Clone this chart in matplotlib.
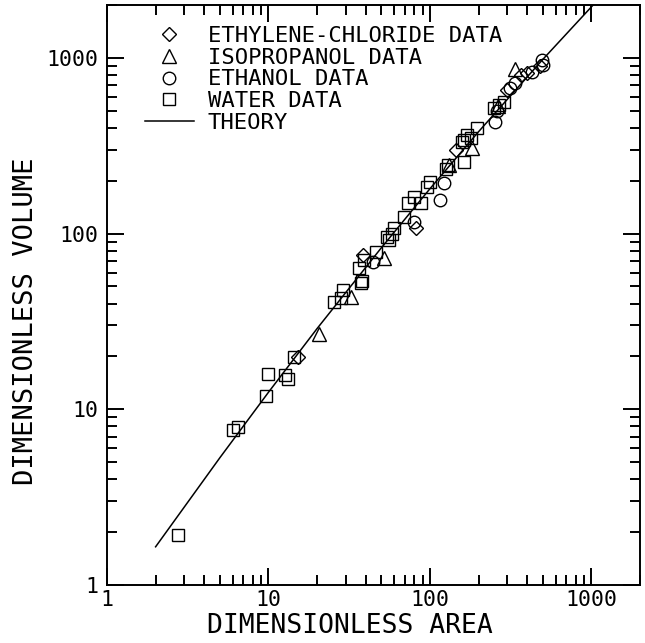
import matplotlib
matplotlib.use('Agg')
import matplotlib.pyplot as plt
from matplotlib.ticker import LogLocator, NullFormatter

plt.rcParams['font.family'] = 'DejaVu Sans Mono'

# data (dimensionless area, dimensionless volume)
ethylene_area = [15.2, 38.7, 81.6, 145, 300, 364, 400, 480]
ethylene_vol = [19.9, 75.5, 107, 299, 656, 800, 817, 900]

isoprop_area = [20.6, 32.4, 52, 131, 183, 265, 338]
isoprop_vol = [27, 43.7, 72.3, 245, 306, 530, 861]

ethanol_area = [44.5, 79.6, 116, 122, 254, 262, 315, 338, 428, 493, 505]
ethanol_vol = [68.7, 117, 155, 193, 433, 500, 671, 716, 833, 973, 910]

water_area = [2.75, 6.0, 6.5, 9.6, 10.0, 12.6, 13.2, 14.3, 25.5, 28.1, 28.8,
              37.3, 37.8, 36.5, 39, 46.2, 54.5, 55.8, 58.5, 60, 69, 73.5,
              79.6, 87.7, 96.5, 100, 125, 130, 158, 162, 162, 170, 179,
              196, 248, 266, 286]
water_vol = [1.92, 7.6, 7.9, 11.9, 15.9, 15.7, 14.8, 19.8, 41, 42.9, 47.7,
             52.6, 53.5, 63.5, 70.8, 78.9, 96, 92, 100, 107, 125, 149,
             162, 149, 185, 197, 233, 245, 333, 341, 256, 364, 349,
             397, 517, 540, 564]

theory_area = [2, 5, 10, 20, 50, 100, 200, 500, 1025]
theory_vol = [1.65, 5.3, 12.5, 28.8, 83, 180, 380, 980, 2000]

fig = plt.figure(figsize=(6.45, 6.43), dpi=100)
ax = fig.add_axes([107/645, 58/643, 533/645, 580/643])

mk = dict(linestyle='none', mfc='none', mec='black', mew=1.0)
ax.plot(ethylene_area, ethylene_vol, marker='D', ms=7.5, label='ETHYLENE-CHLORIDE DATA', **mk)
ax.plot(isoprop_area, isoprop_vol, marker='^', ms=9.5, label='ISOPROPANOL DATA', **mk)
ax.plot(ethanol_area, ethanol_vol, marker='o', ms=9, label='ETHANOL DATA', **mk)
ax.plot(water_area, water_vol, marker='s', ms=9, label='WATER DATA', **mk)
ax.plot(theory_area, theory_vol, color='black', lw=1.1, label='THEORY')

ax.set_xscale('log')
ax.set_yscale('log')
ax.set_xlim(1, 2000)
ax.set_ylim(1, 2000)

ax.set_xticks([1, 10, 100, 1000])
ax.set_xticklabels(['1', '10', '100', '1000'])
ax.set_yticks([1, 10, 100, 1000])
ax.set_yticklabels(['1', '10', '100', '1000'])
for axis in (ax.xaxis, ax.yaxis):
    axis.set_minor_locator(LogLocator(base=10, subs=range(2, 10)))
    axis.set_minor_formatter(NullFormatter())

ax.tick_params(which='both', direction='in', top=True, right=True,
               width=1.4, labelsize=15.5, color='black')
ax.tick_params(which='major', length=12)
ax.tick_params(which='minor', length=7.5)
ax.tick_params(axis='x', which='major', pad=3.5)
ax.tick_params(axis='y', which='major', pad=6)
for s in ax.spines.values():
    s.set_linewidth(1.4)

ax.set_xlabel('DIMENSIONLESS AREA', fontsize=19)
ax.set_ylabel('DIMENSIONLESS VOLUME', fontsize=19.5)
ax.xaxis.set_label_coords(0.456, -0.048)
ax.yaxis.set_label_coords(-0.128, 0.455)

ax.legend(loc='upper left', bbox_to_anchor=(0.071, 0.964), frameon=False,
          fontsize=16, handlelength=2.2, handletextpad=0.63,
          labelspacing=0.08, borderpad=0, borderaxespad=0)

fig.savefig('out.png', dpi=100)
